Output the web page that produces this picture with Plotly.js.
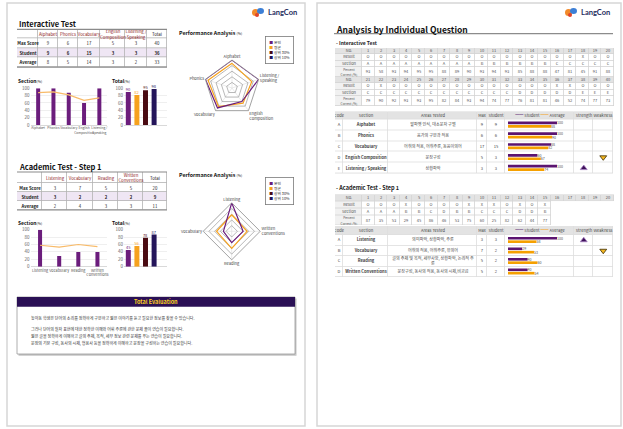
<!DOCTYPE html>
<html><head><meta charset="utf-8">
<script src="https://cdn.plot.ly/plotly-3.0.1.min.js"></script>
<style>html,body{margin:0;padding:0;background:#fff;overflow:hidden}</style>
</head><body><div id="chart" style="width:623px;height:429px"></div>
<script>
// ================= DATA =================
const totalNames = ['본인', '평균', '상위 30%', '상위 10%'];
const rowNames = ['Max Score', 'Student', 'Average'];

// Interactive Test
const itSections = ['Alphabet', 'Phonics', 'Vocabulary', 'English Composition', 'Listening / Speaking'];
const itCodes = ['A', 'B', 'C', 'D', 'E'];
const itAreas = ['알파벳 인식, 대소문자 구별', '음가의 구분과 적용', '어휘의 적용, 어휘추론, 동음이의어', '문장구성', '상황파악'];
const itMax = [9, 6, 17, 5, 3];
const itStudent = [9, 6, 15, 3, 3];
const itAverage = [8, 5, 14, 3, 2];
const itTotals = [40, 36, 33];
const itStudentPct = [100, 100, 88, 60, 100];
const itAveragePct = [88, 90, 82, 67, 74];
const itTotalPct = [90, 82, 95, 98];
const itRadarOrder = [0, 4, 3, 2, 1];
const itStrength = [0, 0, 0, 0, 1];
const itWeakness = [0, 0, 0, 1, 0];

// Academic Test - Step 1
const atSections = ['Listening', 'Vocabulary', 'Reading', 'Written Conventions'];
const atCodes = ['A', 'B', 'C', 'D'];
const atAreas = ['의미파악, 상황파악, 추론', '어휘의 적용, 어휘추론, 유의어', '글의 주제 및 목적, 세부사항, 상황파악, 논리적 추<br>론', '문장구성, 동사의 적용, 동사의 시제,비교급'];
const atMax = [3, 7, 5, 5];
const atStudent = [3, 2, 2, 2];
const atAverage = [2, 4, 3, 3];
const atTotals = [20, 9, 11];
const atStudentPct = [100, 29, 40, 40];
const atAveragePct = [58, 53, 60, 54];
const atTotalPct = [45, 56, 78, 87];
const atRadarOrder = [0, 3, 2, 1];
const atStrength = [1, 0, 0, 0];
const atWeakness = [0, 1, 0, 0];

// Individual questions - Interactive Test
const q1No = [1,2,3,4,5,6,7,8,9,10,11,12,13,14,15,16,17,18,19,20,21,22,23,24,25,26,27,28,29,30,31,32,33,34,35,36,37,38,39,40];
const q1Result = ['O','O','O','O','O','O','O','O','O','O','O','O','O','O','O','O','O','X','O','O',
                  'O','X','O','O','O','O','O','O','O','O','O','O','O','O','O','X','X','O','O','O'];
const q1Section = ['A','A','A','A','A','A','A','A','A','B','B','B','B','B','B','C','C','C','C','C',
                   'C','C','C','C','C','C','C','C','C','C','C','C','D','D','D','D','D','E','E','E'];
const q1Pct = [93,58,93,94,95,95,88,89,90,93,94,93,85,88,88,47,81,45,91,88,
               79,90,92,93,93,95,82,84,93,94,74,77,76,81,81,46,52,74,77,73];

// Individual questions - Academic Test
const q2No = [1,2,3,4,5,6,7,8,9,10,11,12,13,14,15,16,17,18,19,20];
const q2Result = ['O','O','O','X','O','O','O','O','X','X','X','O','X','O','X'];
const q2Section = ['A','A','A','B','B','C','D','B','B','C','C','C','D','D','B'];
const q2Pct = [87,35,53,29,45,86,46,53,75,60,25,82,62,44,77];

const evalLines = [
  '높아동 학생은 단어의 소리를 정확하게 구분하고 짧은 이야기를 듣고 필요한 정보를 찾을 수 있습니다.',
  '그러나 단어의 철자 표현에 대한 정확한 이해와 어휘 추론에 관한 문제 풀이 연습이 필요합니다.',
  '짧은 글을 정확하게 이해하고 글의 주제, 목적, 세부 정보 관련 문제를 푸는 연습이 필요합니다.',
  '문장의 기본 구성, 동사의 시제, 형용사 등을 정확하게 이해하고 문장을 구성하는 연습이 필요합니다.'
];

// ================= STYLE / LAYOUT =================
const W = 623, H = 429;
const FONT = '"Noto Sans CJK KR", "Noto Sans", sans-serif';
const PURPLE = '#6b1d7c', ORANGE = '#f6a21e', MAROON = '#4a0b12', NAVY = '#24155a', AVGLINE = '#f8bb6a';
const totalColors = [PURPLE, ORANGE, MAROON, NAVY];
const CS = [[0,'#ffffff'],[0.25,'#f1f1f1'],[0.5,'#efe6f4'],[0.75,'#e3e3e3'],[1,'#d5d5d5']];

function dom(x0,x1,y0,y1){return {x:[x0/W,x1/W], y:[1-y1/H,1-y0/H]};}
function wrap(s){return s.replace(/ (?=[A-Z])/,'<br>');}
function closed(a){return a.concat([a[0]]);}
function cumul(a){const e=[0];a.forEach(v=>e.push(+(e[e.length-1]+v).toFixed(3)));return e;}
function sum(a){return a.reduce((p,c)=>p+c,0);}

const traces = [];
const S = [], A = [];
const layout = {width:W, height:H, margin:{l:0,r:0,t:0,b:0}, autosize:false,
  paper_bgcolor:'#ffffff', plot_bgcolor:'rgba(0,0,0,0)', showlegend:false, barmode:'overlay',
  font:{family:FONT, size:5, color:'#444'}, shapes:S, annotations:A};

function rect(x0,y0,x1,y1,fill,line,lw,layer){S.push({type:'rect',xref:'paper',yref:'paper',x0:x0/W,x1:x1/W,y0:1-y1/H,y1:1-y0/H,fillcolor:fill,line:{color:line||'rgba(0,0,0,0)',width:lw||0},layer:layer||'below'});}
function hline(x0,x1,y,color,w,layer){S.push({type:'line',xref:'paper',yref:'paper',x0:x0/W,x1:x1/W,y0:1-y/H,y1:1-y/H,line:{color,width:w},layer:layer||'above'});}
function circ(x0,y0,x1,y1,fill){S.push({type:'circle',xref:'paper',yref:'paper',x0:x0/W,x1:x1/W,y0:1-y1/H,y1:1-y0/H,fillcolor:fill,line:{width:0},layer:'above'});}
function txt(x,y,text,size,opt){A.push(Object.assign({xref:'paper',yref:'paper',x:x/W,y:1-y/H,text,showarrow:false,xanchor:'left',yanchor:'middle',font:{family:FONT,size,color:'#222'}},opt||{}));}

// pages
rect(7,3,305,426,'#ffffff','#d6d6d6',1.5);
rect(317,3,621,426,'#ffffff','#d6d6d6',1.5);

// logos
function logo(x){circ(x,9,x+7,16,'#f28a2b');circ(x+5,8,x+12,14,'#3c7fd6');circ(x+3,13,x+7,17,'#e0452b');
  txt(x+13.5,13,'<b>LangCon</b>',7.5,{font:{family:'Lato, '+FONT,size:7.5,color:'#1f2d5e'}});}
logo(252); logo(565);

// ---------- heatmap tables ----------
function heatTable(ax,x0,y0,colW,rowH,text,z,fsize,fcolor,border){
  const w=sum(colW), h=sum(rowH), d=dom(x0,x0+w,y0,y0+h);
  layout['xaxis'+ax]={domain:d.x,range:[0,w],visible:false,fixedrange:true,anchor:'y'+ax};
  layout['yaxis'+ax]={domain:d.y,range:[h,0],visible:false,fixedrange:true,anchor:'x'+ax};
  traces.push({type:'heatmap',xaxis:'x'+ax,yaxis:'y'+ax,x:cumul(colW),y:cumul(rowH),z,text,
    texttemplate:'%{text}',textfont:{family:FONT,size:fsize,color:fcolor},colorscale:CS,zmin:0,zmax:4,
    showscale:false,xgap:0.8,ygap:0.8,hoverinfo:'skip'});
  if(border) rect(x0,y0,x0+w,y0+h,border);
}
const red = s => '<span style="color:#8e1c1c">'+wrap(s)+'</span>';
const bold = v => '<b>'+v+'</b>';
function smallTable(ax,y0,rowH,colW,sections,mx,st,av,tot){
  const n=sections.length+2;
  const text=[[''].concat(sections.map(red),['Total']),
    [bold(rowNames[0])].concat(mx,[tot[0]]),
    [bold(rowNames[1])].concat(st.map(bold),[bold(tot[1])]),
    [bold(rowNames[2])].concat(av,[tot[2]])];
  const z=[Array(n).fill(0),Array(n).fill(0),Array(n).fill(2),Array(n).fill(0)];
  heatTable(ax,17,y0,colW,rowH,text,z,4.3,'#222','#b3b3b3');
  hline(17,167,y0,'#8a8a8a',1.2); hline(17,167,y0+sum(rowH),'#8a8a8a',1.2);
}
smallTable(5,29.3,[9.3,9.5,9.5,9.5],[21,20,20,22,25,22,20],itSections,itMax,itStudent,itAverage,itTotals);
smallTable(6,172,[11,9,9,9],[25,25,26,25,25,24],atSections,atMax,atStudent,atAverage,atTotals);

// ---------- section / total bar charts ----------
const yStyle = {range:[0,100],dtick:20,showgrid:true,gridcolor:'#e4e4e4',gridwidth:0.6,zeroline:true,zerolinecolor:'#cfcfcf',zerolinewidth:0.8,
  tickfont:{size:4.5,color:'#666'},ticks:'',showline:false,fixedrange:true};
function sectionChart(ax,y0,y1,sections,stud,avg,bw,fs){
  const d=dom(30.5,107,y0,y1), labels=sections.map(wrap);
  const xk=ax===''?'xaxis':'xaxis'+ax, yk=ax===''?'yaxis':'yaxis'+ax;
  const xa=ax===''?'x':'x'+ax, ya=ax===''?'y':'y'+ax;
  layout[xk]={domain:d.x,anchor:ya,type:'category',tickfont:{size:fs,color:'#555'},tickangle:0,ticks:'',showgrid:false,showline:false,fixedrange:true};
  layout[yk]=Object.assign({domain:d.y,anchor:xa},yStyle);
  traces.push({type:'bar',xaxis:xa,yaxis:ya,x:labels,y:stud,width:bw,marker:{color:PURPLE},hoverinfo:'skip'});
  traces.push({type:'scatter',mode:'lines',xaxis:xa,yaxis:ya,x:labels,y:avg,line:{color:AVGLINE,width:1.2},hoverinfo:'skip'});
}
function totalChart(ax,y0,y1,vals){
  const d=dom(124,167,y0,y1);
  layout['xaxis'+ax]={domain:d.x,anchor:'y'+ax,type:'category',categoryarray:totalNames,categoryorder:'array',range:[-0.5,4.5],showticklabels:false,ticks:'',showgrid:false,fixedrange:true};
  layout['yaxis'+ax]=Object.assign({domain:d.y,anchor:'x'+ax},yStyle);
  vals.forEach((v,i)=>traces.push({type:'bar',xaxis:'x'+ax,yaxis:'y'+ax,x:[totalNames[i]],y:[v],width:0.58,
    marker:{color:totalColors[i]},text:[String(v)],textposition:'outside',cliponaxis:false,constraintext:'none',
    textfont:{size:4,color:totalColors[i]},name:totalNames[i],hoverinfo:'skip'}));
}
sectionChart('',88.3,125,itSections,itStudentPct,itAveragePct,0.26,3.3);
totalChart(2,88.3,125,itTotalPct);
sectionChart(3,229.7,266.7,atSections,atStudentPct,atAveragePct,0.21,3.8);
totalChart(4,229.7,266.7,atTotalPct);

// ---------- radars ----------
function radar(key,cx,cy,r,sections,order,stud,avg){
  const d=dom(cx-r,cx+r,cy-r,cy+r);
  const labels=order.map(i=>wrap(sections[i]));
  layout[key]={domain:d,bgcolor:'rgba(0,0,0,0)',gridshape:'linear',
    radialaxis:{range:[0,100],dtick:20,tick0:0,showticklabels:false,ticks:'',showline:false,gridcolor:'#9a9a9a',gridwidth:0.7},
    angularaxis:{rotation:90,direction:'clockwise',tickfont:{size:4,color:'#444'},linecolor:'#8a8a8a',linewidth:0.8,gridcolor:'#d6d6d6',gridwidth:0.5,ticks:'',categoryarray:labels,categoryorder:'array'}};
  traces.push({type:'scatterpolar',subplot:key,mode:'lines',theta:closed(labels),r:closed(order.map(i=>avg[i])),line:{color:ORANGE,width:1.2},hoverinfo:'skip'});
  traces.push({type:'scatterpolar',subplot:key,mode:'lines',theta:closed(labels),r:closed(order.map(i=>stud[i])),line:{color:PURPLE,width:1.2},hoverinfo:'skip'});
}
radar('polar',232,88,28,itSections,itRadarOrder,itStudentPct,itAveragePct);
radar('polar2',231.7,231.3,28.5,atSections,atRadarOrder,atStudentPct,atAveragePct);

function legendBox(y){
  const t=totalNames.map((n,i)=>'<span style="color:'+totalColors[i]+'">■</span> '+n).join('<br>');
  txt(265,y,t,3.8,{yanchor:'top',align:'left',bordercolor:'#7a7a7a',borderwidth:0.8,borderpad:3.5,bgcolor:'#ffffff',font:{family:FONT,size:3.8,color:'#333'}});
}
legendBox(35.5); legendBox(177.5);

// ---------- page 1 texts ----------
txt(17,24,'<b>Interactive Test</b>',7.5,{font:{family:FONT,size:7.5,color:'#111'}});
txt(17,166.5,'<b>Academic Test - Step 1</b>',7.5,{font:{family:FONT,size:7.5,color:'#111'}});
[33,175].forEach(y=>txt(177,y,'<b>Performance Analysis</b> <span style="font-size:3.5px">(%)</span>',5.3,{font:{family:FONT,size:5.3,color:'#111'}}));
[80.5,222].forEach(y=>{txt(16,y,'<b>Section</b><span style="font-size:3.5px">(%)</span>',5,{font:{family:FONT,size:5,color:'#111'}});
  txt(110,y,'<b>Total</b><span style="font-size:3.5px">(%)</span>',5,{font:{family:FONT,size:5,color:'#111'}});});

// total evaluation box
rect(18.5,298.5,296.5,355.8,'#c4c4c4');
rect(17,297,295,354,'#ffffff','#9a9a9a',0.8);
rect(17,297,295,306.8,'#2a1055');
txt(156,301.9,'<b>Total Evaluation</b>',5.5,{xanchor:'center',font:{family:FONT,size:5.5,color:'#ffd21f'}});
[318,329,336,343].forEach((y,i)=>txt(28.5,y,evalLines[i],4,{font:{family:FONT,size:4,color:'#333'}}));

// ---------- page 2 ----------
txt(334,29,'<b>Analysis by Individual Question</b>',8.5,{font:{family:FONT,size:8.5,color:'#111'}});
hline(334,613,33.6,'#8c8c8c',1.4);
txt(334,42.5,'<b>- Interactive Test</b>',5,{font:{family:FONT,size:5,color:'#222'}});
txt(334,188,'<b>- Academic Test - Step 1</b>',5.5,{font:{family:FONT,size:5.5,color:'#222'}});

const pctLabel='<span style="font-size:3.2px">Percent</span><br><span style="font-size:3.2px">Correct (%)</span>';
const gridColW=[27].concat(Array(20).fill(12.6));
// grid 1
(function(){
  const text=[], z=[];
  [0,1].forEach(b=>{
    const s=b*20,e=s+20;
    text.push(['No.'].concat(q1No.slice(s,e)));        z.push(Array(21).fill(3));
    text.push(['Result'].concat(q1Result.slice(s,e)));  z.push([1].concat(Array(20).fill(0)));
    text.push(['Section'].concat(q1Section.slice(s,e)));z.push([1].concat(Array(20).fill(0)));
    text.push([pctLabel].concat(q1Pct.slice(s,e)));     z.push([1].concat(Array(20).fill(0)));
  });
  heatTable(7,335,48,gridColW,[6.3,6.3,6.3,10.1,6.3,6.3,6.3,10.1],text,z,4,'#555','#d4d4d4');
})();
// grid 2
(function(){
  const n=q2Result.length, pad=20-n;
  const padT=Array(pad).fill(''), padZ=Array(pad).fill(null);
  const text=[['No.'].concat(q2No),['Result'].concat(q2Result,padT),['Section'].concat(q2Section,padT),[pctLabel].concat(q2Pct,padT)];
  const z=[Array(21).fill(3),[1].concat(Array(n).fill(0),padZ),[1].concat(Array(n).fill(0),padZ),[1].concat(Array(n).fill(0),padZ)];
  const rowH=[6.5,7,7,10];
  heatTable(8,335,194.5,gridColW,rowH,text,z,4,'#555');
  rect(335,194.5,335+sum(gridColW),201,'#d4d4d4');
  rect(335,200.5,335+27+12.6*n,194.5+sum(rowH),'#d4d4d4');
})();

// section tables
const secColW=[8,45,89,10,18,69,19,20];
const legendCell='<span style="color:#5b1470">━━</span> Student <span style="color:#f5a000">━━</span> Average';
function secTable(hax,bax,max_,y0,hdrH,rowH,codes,names,areas,mx,st,stud,avg,strg,weak){
  const n=codes.length;
  const text=[['Code','Section','Areas Tested','Max','Student',legendCell,'Strength','Weakness']];
  const z=[Array(8).fill(3)];
  codes.forEach((c,i)=>{text.push([c,bold(names[i]),areas[i],mx[i],st[i],'','','']);z.push(Array(8).fill(0));});
  const rows=[hdrH].concat(Array(n).fill(rowH));
  heatTable(hax,335,y0,secColW,rows,text,z,4.1,'#444','#dedede');
  const top=y0+hdrH, bot=y0+hdrH+rowH*n;
  const xb0=335+sum(secColW.slice(0,5)), xb1=xb0+secColW[5];
  const db=dom(xb0,xb1,top,bot);
  const yCat={type:'category',categoryarray:codes,categoryorder:'array',range:[n-0.5,-0.5],visible:false,fixedrange:true};
  layout['xaxis'+bax]={domain:db.x,range:[-3/0.49,(secColW[5]-3)/0.49],visible:false,fixedrange:true,anchor:'y'+bax};
  layout['yaxis'+bax]=Object.assign({domain:db.y,anchor:'x'+bax},yCat);
  traces.push({type:'bar',orientation:'h',xaxis:'x'+bax,yaxis:'y'+bax,y:codes,x:stud,offset:-0.31,width:0.25,marker:{color:'#5b1470'},
    text:stud.map(String),textposition:'outside',cliponaxis:false,constraintext:'none',textfont:{size:3.6,color:'#555'},hoverinfo:'skip'});
  traces.push({type:'bar',orientation:'h',xaxis:'x'+bax,yaxis:'y'+bax,y:codes,x:avg,offset:0.01,width:0.25,marker:{color:'#f5a000'},
    text:avg.map(String),textposition:'outside',cliponaxis:false,constraintext:'none',textfont:{size:3.6,color:'#555'},hoverinfo:'skip'});
  const dm=dom(xb1,xb1+secColW[6]+secColW[7],top,bot);
  layout['xaxis'+max_]={domain:dm.x,type:'category',categoryarray:['Strength','Weakness'],categoryorder:'array',range:[-0.5,1.5],visible:false,fixedrange:true,anchor:'y'+max_};
  layout['yaxis'+max_]=Object.assign({domain:dm.y,anchor:'x'+max_},yCat);
  const sy=codes.filter((c,i)=>strg[i]), wy=codes.filter((c,i)=>weak[i]);
  traces.push({type:'scatter',mode:'markers',xaxis:'x'+max_,yaxis:'y'+max_,x:sy.map(()=>'Strength'),y:sy,
    marker:{symbol:'triangle-up',size:6,color:'#3d0f59',line:{color:'#a57fc0',width:0.8}},hoverinfo:'skip',cliponaxis:false});
  traces.push({type:'scatter',mode:'markers',xaxis:'x'+max_,yaxis:'y'+max_,x:wy.map(()=>'Weakness'),y:wy,
    marker:{symbol:'triangle-down',size:6,color:'#f3b61f',line:{color:'#3a2a00',width:0.8}},hoverinfo:'skip',cliponaxis:false});
}
secTable(9,11,13,111.5,8,10.8,itCodes,itSections,itAreas,itMax,itStudent,itStudentPct,itAveragePct,itStrength,itWeakness);
secTable(10,12,14,226,9,10.5,atCodes,atSections,atAreas,atMax,atStudent,atStudentPct,atAveragePct,atStrength,atWeakness);

Plotly.newPlot('chart',traces,layout,{staticPlot:true,displayModeBar:false});
</script></body></html>
